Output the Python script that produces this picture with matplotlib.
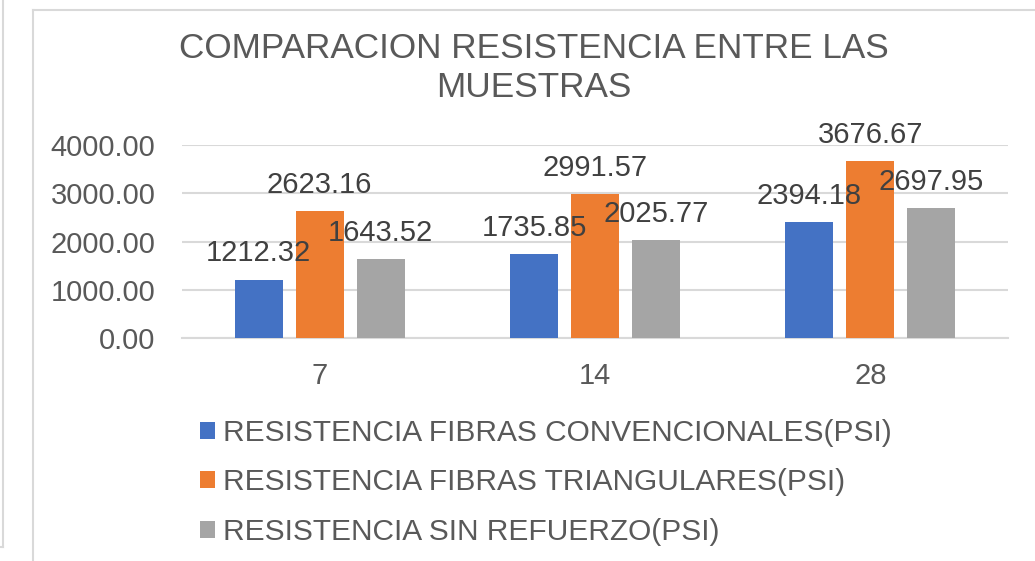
import numpy as np
import matplotlib
matplotlib.use("Agg")
import matplotlib.pyplot as plt
from matplotlib.lines import Line2D

plt.rcParams['font.family'] = ['Liberation Sans', 'DejaVu Sans']

# -----------------------------
# Data
# -----------------------------
categories = ["7", "14", "28"]
series_names = [
    "RESISTENCIA FIBRAS CONVENCIONALES(PSI)",
    "RESISTENCIA FIBRAS TRIANGULARES(PSI)",
    "RESISTENCIA SIN REFUERZO(PSI)",
]
conv = [1212.32, 1735.85, 2394.18]
triang = [2623.16, 2991.57, 3676.67]
sin_ref = [1643.52, 2025.77, 2697.95]
y_ticks = [0, 1000, 2000, 3000, 4000]

colors = ["#4472C4", "#ED7D31", "#A5A5A5"]
text_col = "#595959"
label_col = "#404040"
grid_col = "#D9D9D9"

W, H = 1035, 561
fig = plt.figure(figsize=(W / 100, H / 100), dpi=100)

# frames (light grey borders like the spreadsheet chart)
fig.add_artist(Line2D([3 / W, 3 / W], [1, 1 - 547 / H], color=grid_col, lw=1.5))
fig.add_artist(Line2D([0, 3 / W], [1 - 547 / H, 1 - 547 / H], color=grid_col, lw=1.5))
fig.add_artist(Line2D([33 / W, 33 / W], [0, 1 - 10 / H], color=grid_col, lw=1.5))
fig.add_artist(Line2D([33 / W, 1], [1 - 10 / H, 1 - 10 / H], color=grid_col, lw=1.5))

ax = fig.add_axes([182 / W, 1 - 338 / H, 826 / W, 193 / H])

x = np.arange(len(categories))
bw = 0.174
step = 0.2216
all_series = [conv, triang, sin_ref]
for i, vals in enumerate(all_series):
    pos = x + (i - 1) * step
    ax.bar(pos, vals, width=bw, color=colors[i], label=series_names[i], zorder=3)
    for xp, v in zip(pos, vals):
        ax.annotate(f"{v:.2f}", (xp, v), xytext=(0, 13), textcoords="offset points",
                    ha="center", va="baseline", fontsize=21, color=label_col, zorder=5)

ax.set_xlim(-0.5, 2.5)
ax.set_ylim(0, 4000)
ax.set_yticks(y_ticks)
ax.set_yticklabels([f"{t:.2f}" for t in y_ticks])
ax.set_xticks(x)
ax.set_xticklabels(categories)
ax.tick_params(axis="both", length=0, labelsize=21, colors=text_col)
ax.tick_params(axis="y", pad=19)
ax.tick_params(axis="x", pad=17)
ax.grid(axis="y", color=grid_col, lw=1.5, zorder=0)
for s in ["top", "right", "left"]:
    ax.spines[s].set_visible(False)
ax.spines["bottom"].set_color(grid_col)
ax.spines["bottom"].set_linewidth(1.5)

fig.text(534 / W, 1 - 32 / H, "COMPARACION RESISTENCIA ENTRE LAS\nMUESTRAS", ha="center",
         va="top", fontsize=25.3, color=text_col, linespacing=1.22)

fig.legend(loc="upper left", bbox_to_anchor=(200 / W, 1 - 419 / H), frameon=False,
           fontsize=21.5, labelcolor=text_col, handlelength=0.5, handleheight=0.5,
           handletextpad=0.27, labelspacing=0.72, borderpad=0, borderaxespad=0)

fig.savefig("out.png", dpi=100, facecolor="white")
